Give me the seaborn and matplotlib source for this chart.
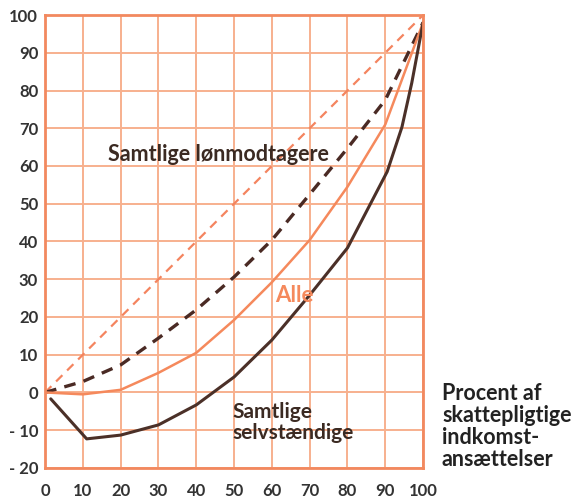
import matplotlib
matplotlib.use("Agg")
import matplotlib.pyplot as plt
import seaborn as sns

# percent of taxable income assessments (x) vs cumulative share (y)
x_diag = [0, 100]
y_diag = [0, 100]

x_loen = [0, 10, 20, 30, 40, 50, 60, 70, 80, 90, 100]
y_loen = [0, 2.9, 7.3, 14.4, 21.9, 30.6, 40.4, 52.5, 64.7, 77.5, 98]

x_alle = [0, 10, 20, 30, 40, 50, 60, 70, 80, 90, 100]
y_alle = [0, -0.5, 0.7, 5.2, 10.5, 19.2, 29.2, 40.4, 54.5, 71, 98]

x_selv = [1.5, 11, 20, 30, 40, 50, 60, 70, 80, 90.5, 94.4, 97, 100]
y_selv = [-1.7, -12.3, -11.3, -8.6, -3.3, 4.1, 13.9, 25.8, 38.3, 58.5, 70.3, 82, 98]

x_ticks = [0, 10, 20, 30, 40, 50, 60, 70, 80, 90, 100]
y_ticks = [-20, -10, 0, 10, 20, 30, 40, 50, 60, 70, 80, 90, 100]
y_tick_labels = ["- 20", "- 10", "0", "10", "20", "30", "40", "50", "60", "70", "80", "90", "100"]

sns.set_style("white")
plt.rcParams['font.family'] = ['Lato', 'DejaVu Sans']

grid_col = "#f7b08e"
spine_col = "#f2895f"
dark = "#3b2a22"
salmon = "#f5895c"

fig = plt.figure(figsize=(5.78, 5.01), dpi=100)
ax = fig.add_axes([0.078, 0.066, 0.654, 0.904])

sns.lineplot(x=x_diag, y=y_diag, ax=ax, color="#f4845f", lw=1.6, linestyle=(0, (4, 3)))
sns.lineplot(x=x_loen, y=y_loen, ax=ax, color="#4a2a24", lw=2.4, linestyle=(0, (3.5, 2.5)))
sns.lineplot(x=x_alle, y=y_alle, ax=ax, color=salmon, lw=1.8)
sns.lineplot(x=x_selv, y=y_selv, ax=ax, color="#4b3028", lw=2.2)

ax.set_xlim(0, 100)
ax.set_ylim(-20, 100)
ax.set_xticks(x_ticks)
ax.set_yticks(y_ticks)
ax.set_yticklabels(y_tick_labels)
ax.grid(True, color=grid_col, lw=1.4)
ax.set_axisbelow(True)
for s in ax.spines.values():
    s.set_color(spine_col)
    s.set_linewidth(2)
ax.tick_params(length=0, labelsize=12, labelcolor="#333333")
ax.tick_params(axis="x", pad=11)
ax.tick_params(axis="y", pad=5)
for t in ax.get_xticklabels() + ax.get_yticklabels():
    t.set_fontweight("bold")

ax.text(45.8, 63, "Samtlige lønmodtagere", color=dark, fontsize=15.5, fontweight="bold",
        ha="center", va="center")
ax.text(66, 25.6, "Alle", color=salmon, fontsize=16, fontweight="bold", ha="center", va="center")
ax.text(49.5, -8, "Samtlige\nselvstændige", color=dark, fontsize=15, fontweight="bold",
        ha="left", va="center", linespacing=1.1)
ax.text(105, -9, "Procent af\nskattepligtige\nindkomst-\nansættelser", color="#222222",
        fontsize=15.5, fontweight="bold", ha="left", va="center", linespacing=1.05, clip_on=False)

fig.savefig("out.png", dpi=100, facecolor="white")
